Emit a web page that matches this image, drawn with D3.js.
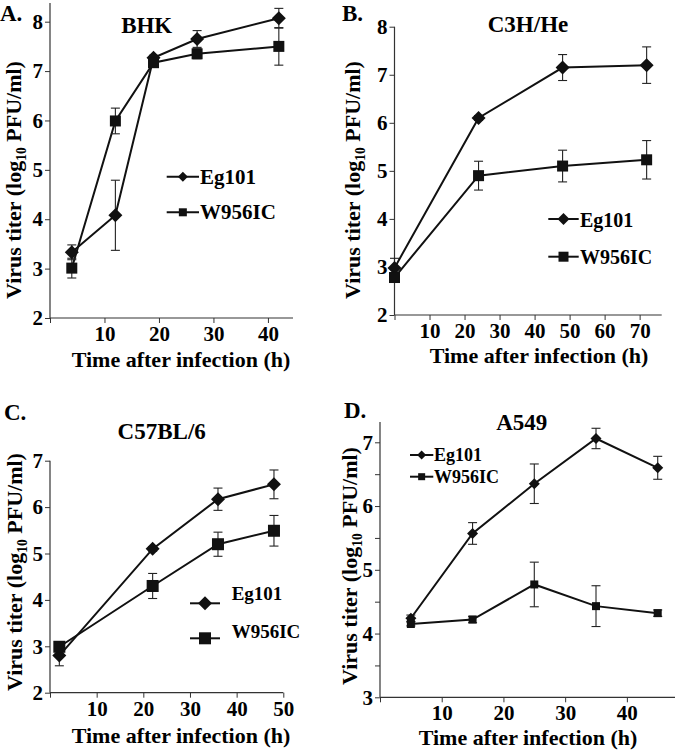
<!DOCTYPE html>
<html>
<head>
<meta charset="utf-8">
<script src="https://cdn.jsdelivr.net/npm/d3@7/dist/d3.min.js"></script>
<style>
  html, body { margin: 0; padding: 0; background: #fff; }
  svg { display: block; }
  text { font-family: "Liberation Serif", "Times New Roman", serif; font-weight: bold; fill: #000; }
</style>
</head>
<body>
<svg id="chart" width="680" height="750"></svg>
<script>
// ---------------- DATA ----------------
const seriesNames = ["Eg101", "W956IC"];

// Panel A: BHK
const timeA = [4, 12, 19, 27, 42];
const egA = [3.33, 4.08, 7.27, 7.65, 8.07];
const egErrA = [0.15, 0.71, 0.05, 0.17, 0.20];
const wA = [3.01, 5.99, 7.17, 7.35, 7.50];
const wErrA = [0.20, 0.26, 0.05, 0.10, 0.38];
const xTicksA = [0, 10, 20, 30, 40];
const yTicksA = [2, 3, 4, 5, 6, 7, 8];

// Panel B: C3H/He
const timeB = [0, 24, 48, 72];
const egB = [2.98, 6.10, 7.15, 7.20];
const egErrB = [0.20, 0.05, 0.27, 0.38];
const wB = [2.78, 4.90, 5.10, 5.23];
const wErrB = [0.10, 0.30, 0.33, 0.40];
const xTicksB = [0, 10, 20, 30, 40, 50, 60, 70];
const yTicksB = [2, 3, 4, 5, 6, 7, 8];

// Panel C: C57BL/6
const timeC = [2, 22, 36, 48];
const egC = [2.80, 5.10, 6.17, 6.49];
const egErrC = [0.22, 0.05, 0.24, 0.31];
const wC = [2.99, 4.30, 5.20, 5.49];
const wErrC = [0.05, 0.27, 0.26, 0.33];
const xTicksC = [0, 10, 20, 30, 40, 50];
const yTicksC = [2, 3, 4, 5, 6, 7];

// Panel D: A549
const timeD = [5, 15, 25, 35, 45];
const egD = [4.24, 5.57, 6.35, 7.06, 6.60];
const egErrD = [0.05, 0.17, 0.31, 0.16, 0.18];
const wD = [4.15, 4.22, 4.77, 4.43, 4.32];
const wErrD = [0.03, 0.05, 0.35, 0.32, 0.05];
const xTicksD = [0, 10, 20, 30, 40];
const yTicksD = [3, 3.5, 4, 4.5, 5, 5.5, 6, 6.5, 7];

const yLabel = "Virus titer (log";
const yLabelSub = "10";
const yLabelEnd = " PFU/ml)";
const xLabel = "Time after infection (h)";

// ---------------- LAYOUT ----------------
const panels = [
  { letter: "A.", title: "BHK", time: timeA, eg: egA, egErr: egErrA, w: wA, wErr: wErrA,
    xTicks: xTicksA, yTicks: yTicksA,
    xDom: [0, 44.6], xRange: [50, 293], yDom: [2, 8], yRange: [318, 21.7], yTop: 8.38,
    letterPos: [0, 21], titlePos: [146.7, 32.5], xLabelPos: [181, 366.5], yLabelPos: [21, 180],
    mk: { d: 7, s: 11 },
    legend: { x1: 166.7, x2: 199, tx: 200, y: [176.7, 212.3], ty: [183.5, 219], size: 21, d: 5, s: 8 } },
  { letter: "B.", title: "C3H/He", time: timeB, eg: egB, egErr: egErrB, w: wB, wErr: wErrB,
    xTicks: xTicksB, yTicks: yTicksB,
    xDom: [0, 76.3], xRange: [394.5, 661.7], yDom: [2, 8], yRange: [315, 26.7], yTop: 8,
    letterPos: [342, 21], titlePos: [528, 32], xLabelPos: [539, 363], yLabelPos: [360, 180],
    mk: { d: 7, s: 11 },
    legend: { x1: 548.3, x2: 578.7, tx: 580, y: [219, 256.7], ty: [226.5, 264], size: 20, d: 6, s: 10 } },
  { letter: "C.", title: "C57BL/6", time: timeC, eg: egC, egErr: egErrC, w: wC, wErr: wErrC,
    xTicks: xTicksC, yTicks: yTicksC,
    xDom: [0, 50], xRange: [50, 283.3], yDom: [2, 7], yRange: [692.7, 460.7], yTop: 7,
    letterPos: [4, 420], titlePos: [161.7, 438.5], xLabelPos: [181, 743], yLabelPos: [22, 572],
    mk: { d: 7, s: 12 },
    legend: { x1: 190, x2: 220, tx: 231.7, y: [603.3, 638.3], ty: [600, 638], size: 19, d: 7, s: 12 } },
  { letter: "D.", title: "A549", time: timeD, eg: egD, egErr: egErrD, w: wD, wErr: wErrD,
    xTicks: xTicksD, yTicks: yTicksD,
    xDom: [0, 47.8], xRange: [380, 675], yDom: [3, 7], yRange: [697.3, 442.3], yTop: 7.32,
    letterPos: [344, 418], titlePos: [521.7, 430], xLabelPos: [528, 745], yLabelPos: [357, 566],
    mk: { d: 5.5, s: 8 },
    legend: { x1: 410, x2: 433.3, tx: 434, y: [455, 476.7], ty: [461, 483], size: 18, d: 4.5, s: 7 } }
];

const tickFont = 21, labelFont = 22, titleFont = 23, letterFont = 23;
const svg = d3.select("#chart");
const ink = "#111";

function diamond(g, cx, cy, r) {
  g.append("path")
    .attr("d", `M${cx},${cy - r}L${cx + r},${cy}L${cx},${cy + r}L${cx - r},${cy}Z`)
    .attr("fill", ink);
}
function square(g, cx, cy, s) {
  g.append("rect").attr("x", cx - s / 2).attr("y", cy - s / 2)
    .attr("width", s).attr("height", s).attr("fill", ink);
}

panels.forEach(p => {
  const g = svg.append("g");
  const x = d3.scaleLinear().domain(p.xDom).range(p.xRange);
  const y = d3.scaleLinear().domain(p.yDom).range(p.yRange);

  // axes
  const xAxis = d3.axisBottom(x).tickValues(p.xTicks).tickSize(5).tickSizeOuter(0)
    .tickPadding(3).tickFormat(d => d === 0 ? "" : d);
  const xg = g.append("g").attr("transform", `translate(0,${p.yRange[0]})`).call(xAxis);
  xg.select(".domain").remove();
  xg.selectAll("line").attr("stroke", "#333");
  xg.selectAll("text").attr("font-size", tickFont).attr("font-family", null).attr("fill", ink);
  g.append("line").attr("x1", p.xRange[0]).attr("x2", p.xRange[1])
    .attr("y1", p.yRange[0]).attr("y2", p.yRange[0]).attr("stroke", "#333").attr("stroke-width", 1.2);

  const yAxis = d3.axisLeft(y).tickValues(p.yTicks).tickSize(5).tickSizeOuter(0)
    .tickPadding(2).tickFormat(d => Number.isInteger(d) ? d : "");
  const yg = g.append("g").attr("transform", `translate(${p.xRange[0]},0)`).call(yAxis);
  yg.select(".domain").remove();
  yg.selectAll("line").attr("stroke", "#333");
  yg.selectAll("text").attr("font-size", tickFont).attr("font-family", null).attr("fill", ink);
  g.append("line").attr("x1", p.xRange[0]).attr("x2", p.xRange[0])
    .attr("y1", y(p.yTop)).attr("y2", p.yRange[0]).attr("stroke", "#333").attr("stroke-width", 1.2);

  // labels
  g.append("text").attr("x", p.xLabelPos[0]).attr("y", p.xLabelPos[1])
    .attr("text-anchor", "middle").attr("font-size", labelFont).text(xLabel);
  const yl = g.append("text")
    .attr("transform", `translate(${p.yLabelPos[0]},${p.yLabelPos[1]}) rotate(-90)`)
    .attr("text-anchor", "middle").attr("font-size", labelFont);
  yl.append("tspan").text(yLabel);
  yl.append("tspan").attr("font-size", labelFont * 0.62).attr("dy", 5).text(yLabelSub);
  yl.append("tspan").attr("dy", -5).text(yLabelEnd);

  g.append("text").attr("x", p.letterPos[0]).attr("y", p.letterPos[1])
    .attr("font-size", letterFont).text(p.letter);
  g.append("text").attr("x", p.titlePos[0]).attr("y", p.titlePos[1])
    .attr("text-anchor", "middle").attr("font-size", titleFont).text(p.title);

  // series
  const series = [
    { v: p.eg, e: p.egErr, shape: "d" },
    { v: p.w, e: p.wErr, shape: "s" }
  ];
  const line = d3.line().x((d, i) => x(p.time[i])).y(d => y(d));
  series.forEach(s => {
    g.append("path").datum(s.v).attr("d", line)
      .attr("fill", "none").attr("stroke", ink).attr("stroke-width", 2);
  });
  series.forEach(s => {
    s.v.forEach((v, i) => {
      const cx = x(p.time[i]);
      const y1 = y(v + s.e[i]), y2 = y(v - s.e[i]);
      const cap = 4.5;
      g.append("line").attr("x1", cx).attr("x2", cx).attr("y1", y1).attr("y2", y2)
        .attr("stroke", "#222").attr("stroke-width", 1.1);
      [y1, y2].forEach(yy => g.append("line").attr("x1", cx - cap).attr("x2", cx + cap)
        .attr("y1", yy).attr("y2", yy).attr("stroke", "#222").attr("stroke-width", 1.1));
    });
  });
  series.forEach(s => {
    s.v.forEach((v, i) => {
      const cx = x(p.time[i]), cy = y(v);
      if (s.shape === "d") diamond(g, cx, cy, p.mk.d); else square(g, cx, cy, p.mk.s);
    });
  });

  // legend
  const L = p.legend;
  seriesNames.forEach((name, k) => {
    g.append("line").attr("x1", L.x1).attr("x2", L.x2).attr("y1", L.y[k]).attr("y2", L.y[k])
      .attr("stroke", ink).attr("stroke-width", 2);
    const mx = (L.x1 + L.x2) / 2;
    if (k === 0) diamond(g, mx, L.y[k], L.d); else square(g, mx, L.y[k], L.s);
    g.append("text").attr("x", L.tx).attr("y", L.ty[k]).attr("font-size", L.size).text(name);
  });
});
</script>
</body>
</html>
